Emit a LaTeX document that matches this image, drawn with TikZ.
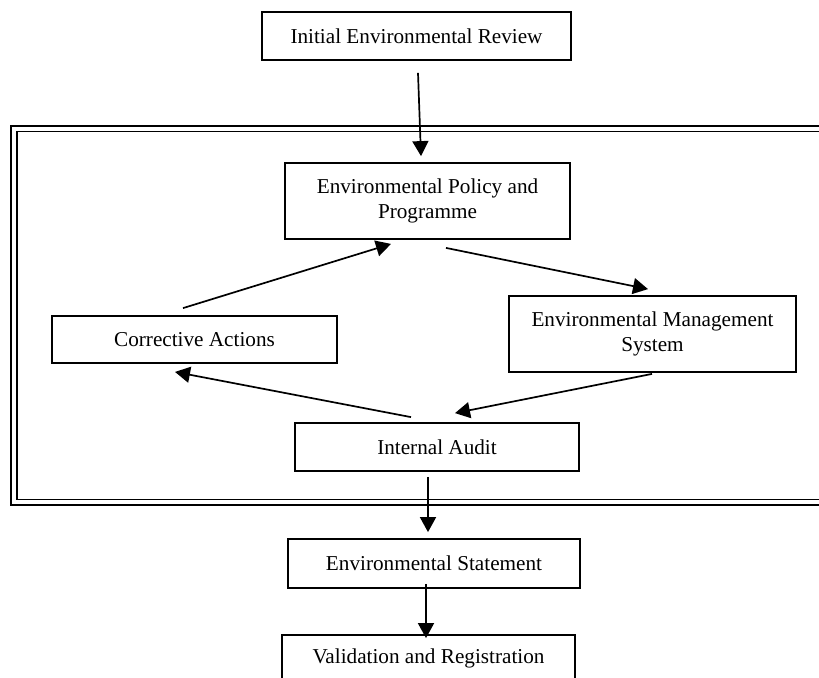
\documentclass[tikz,border=0pt]{standalone}
\usepackage{fontspec}
\setmainfont{Liberation Serif}
\usetikzlibrary{arrows.meta}
\begin{document}
\begin{tikzpicture}[x=0.5pt,y=-0.5pt,
  box/.style={draw, line width=0.9pt, rectangle, inner sep=0pt, align=center,
    font=\fontsize{10.6}{12.4}\selectfont},
  arr/.style={line width=0.85pt, -{Triangle[length=7.5pt,width=8pt]}},
  bord/.style={line width=0.8pt}]
\clip (0,0) rectangle (819,677);
\fill[white] (0,0) rectangle (819,677);
% double border
\draw[bord] (11,126) rectangle (840,505);
\draw[bord] (17,131.5) rectangle (840,499.5);
% boxes
\node[box, minimum width=154.5pt, minimum height=24pt] (init) at (416.5,36) {Initial Environmental Review};
\node[box, minimum width=142.5pt, minimum height=38pt] (pol) at (427.5,201) {Environmental Policy and\\Programme};
\node[box, minimum width=143.5pt, minimum height=38pt] (ems) at (652.5,334) {Environmental Management\\System};
\node[box, minimum width=142.5pt, minimum height=23.5pt] (cor) at (194.5,339.5) {Corrective Actions};
\node[box, minimum width=142pt, minimum height=24pt] (ia) at (437,447) {Internal Audit};
\node[box, minimum width=146pt, minimum height=24.5pt] (es) at (434,563.5) {Environmental Statement};
\node[box, minimum width=146.5pt, minimum height=23.5pt] (val) at (428.5,658.5) {Validation and Registration};
% connectors
\draw[arr] ([shift={(1.5,12)}]init.south) -- ([shift={(-6.5,-6)}]pol.north);
\draw[arr] ([shift={(-11.5,-7)}]cor.north) -- ([shift={(-36.5,4)}]pol.south);
\draw[arr] ([shift={(18.5,8)}]pol.south) -- ([shift={(-4.5,-6)}]ems.north);
\draw[arr] ([shift={(-0.5,1)}]ems.south) -- ([shift={(18,-9)}]ia.north);
\draw[arr] ([shift={(-26,-5)}]ia.north) -- ([shift={(-19.5,8)}]cor.south);
\draw[arr] ([shift={(-9,5)}]ia.south) -- ([shift={(-6,-6)}]es.north);
\draw[arr] ([shift={(-8,-5)}]es.south) -- ([shift={(-2.5,4)}]val.north);
\end{tikzpicture}
\end{document}
